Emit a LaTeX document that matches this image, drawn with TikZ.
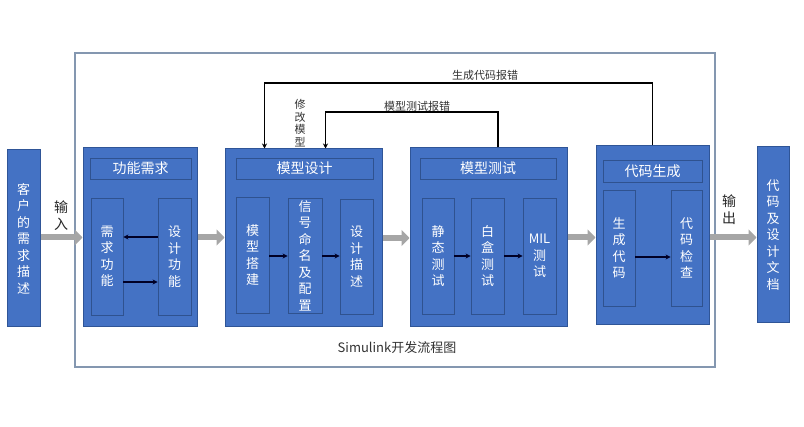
\documentclass[tikz,border=0pt]{standalone}
\usepackage{fontspec}
\setmainfont{Noto Sans CJK SC}
\usetikzlibrary{arrows.meta,calc}
\definecolor{bfill}{HTML}{4472C4}
\definecolor{bdark}{HTML}{2F5597}
\definecolor{bline}{HTML}{2F528F}
\definecolor{garr}{HTML}{A6A6A6}
\definecolor{frm}{HTML}{8497B0}
\tikzset{
  bigbox/.style={draw=bdark, line width=1pt, fill=bfill, inner sep=0pt, text=white, align=center, font=\fontsize{13}{16.5}\selectfont},
  titlebar/.style={draw=bline, line width=0.8pt, fill=bfill, inner sep=0pt, text=white, font=\fontsize{14}{16}\selectfont},
  subbox/.style={draw=bline, line width=0.8pt, fill=bfill, inner sep=0pt, text=white, align=center, font=\fontsize{13}{16.5}\selectfont},
  garrow/.style={draw=garr, line width=6pt, -{Triangle[length=8pt,width=16pt]}},
  barrow/.style={draw=black!85!blue, line width=1.2pt, -{Stealth[length=5pt,width=5pt]}},
  fb/.style={draw=black, line width=1.5pt, -{Stealth[length=5pt,width=5pt]}},
  lbl/.style={inner sep=0pt, text=black!80, font=\fontsize{11}{13}\selectfont},
  sidelbl/.style={inner sep=0pt, align=center, text=black!85, font=\fontsize{14}{17}\selectfont}
}
\begin{document}
\begin{tikzpicture}[x=1pt,y=-1pt]
\useasboundingbox[fill=white] (0,0) rectangle (804,427);
% frame
\node[draw=frm, line width=1.2pt, minimum width=640pt, minimum height=314pt, inner sep=0pt] (frame) at (395,210) {};
\node[inner sep=0pt, text=black!80, font=\fontsize{13}{15}\selectfont] (cap) at (397,348) {Simulink开发流程图};
% customer
\node[bigbox, minimum width=33pt, minimum height=177pt] (cust) at (23.5,238.5) {客\\户\\的\\需\\求\\描\\述};
% function requirements
\node[bigbox, minimum width=114pt, minimum height=179pt] (gn) at (140,237.5) {};
\node[titlebar, minimum width=101pt, minimum height=21pt] (gnt) at (140.5,168.5) {功能需求};
\node[subbox, minimum width=32pt, minimum height=117pt] (xq) at (107,256.5) {需\\求\\功\\能};
\node[subbox, minimum width=33pt, minimum height=117pt] (sj) at (174.5,256.5) {设\\计\\功\\能};
\draw[barrow] ([yshift=19.5pt]sj.west) -- ([yshift=19.5pt]xq.east);
\draw[barrow] ([yshift=-25.5pt]xq.east) -- ([yshift=-25.5pt]sj.west);
% model design
\node[bigbox, minimum width=157pt, minimum height=178pt] (md) at (303.5,238) {};
\node[titlebar, minimum width=137pt, minimum height=21pt] (mdt) at (304.5,168.5) {模型设计};
\node[subbox, minimum width=33pt, minimum height=116pt] (s1) at (252.5,255) {模\\型\\搭\\建};
\node[subbox, minimum width=34pt, minimum height=115pt] (s2) at (305,255.5) {信\\号\\命\\名\\及\\配\\置};
\node[subbox, minimum width=33pt, minimum height=115pt] (s3) at (356.5,256.5) {设\\计\\描\\述};
\draw[barrow] ([yshift=-1pt]s1.east) -- ([yshift=-1pt]s2.west |- s1.east);
\draw[barrow] ([yshift=-0.5pt]s2.east) -- ([yshift=-0.5pt]s3.west |- s2.east);
% model test
\node[bigbox, minimum width=157pt, minimum height=179pt] (mt) at (488.5,237.5) {};
\node[titlebar, minimum width=136pt, minimum height=21pt] (mtt) at (488,168.5) {模型测试};
\node[subbox, minimum width=32pt, minimum height=116pt] (t1) at (438,256) {静\\态\\测\\试};
\node[subbox, minimum width=33pt, minimum height=116pt] (t2) at (487.5,256) {白\\盒\\测\\试};
\node[subbox, minimum width=33pt, minimum height=116pt] (t3) at (539.5,256) {MIL\\测\\试};
\draw[barrow] (t1.east) -- (t2.west);
\draw[barrow] (t2.east) -- (t3.west);
% code generation
\node[bigbox, minimum width=113pt, minimum height=179pt] (cg) at (652.5,235.5) {};
\node[titlebar, minimum width=99pt, minimum height=22pt] (cgt) at (652.5,171) {代码生成};
\node[subbox, minimum width=32pt, minimum height=116pt] (c1) at (619,248) {生\\成\\代\\码};
\node[subbox, minimum width=31pt, minimum height=116pt] (c2) at (686.5,248) {代\\码\\检\\查};
\draw[barrow] ([yshift=-9pt]c1.east) -- ([yshift=-9pt]c2.west);
% documents
\node[bigbox, minimum width=32pt, minimum height=176pt] (doc) at (773,235) {代\\码\\及\\设\\计\\文\\档};
% gray flow arrows
\draw[garrow] (cust.east |- gn.west) -- (gn.west);
\draw[garrow] (gn.east) -- (md.west |- gn.east);
\draw[garrow] (md.west -| md.east) -- (mt.west |- md.west);
\draw[garrow] (mt.east) -- (cg.west |- mt.east);
\draw[garrow] (cg.east |- mt.east) -- (doc.west |- mt.east);
\node[sidelbl] (in) at (61,216) {输\\入};
\node[sidelbl] (out) at (729,210) {输\\出};
% feedback loops
\coordinate (fbo) at (652.5,83);
\coordinate (fbi) at (498,112);
\draw[fb] (cg.north) -- (cg.north |- fbo) -| ([xshift=40pt]md.north west);
\draw[fb] ([xshift=9.5pt]mt.north) -- ([xshift=9.5pt]mt.north |- fbi) -| ([xshift=101pt]md.north west);
\node[lbl] (l1) at (485,75) {生成代码报错};
\node[lbl] (l2) at (417,106) {模型测试报错};
\node[lbl, align=center, font=\fontsize{11}{12.5}\selectfont] (l3) at (300,123) {修\\改\\模\\型};
\end{tikzpicture}
\end{document}
